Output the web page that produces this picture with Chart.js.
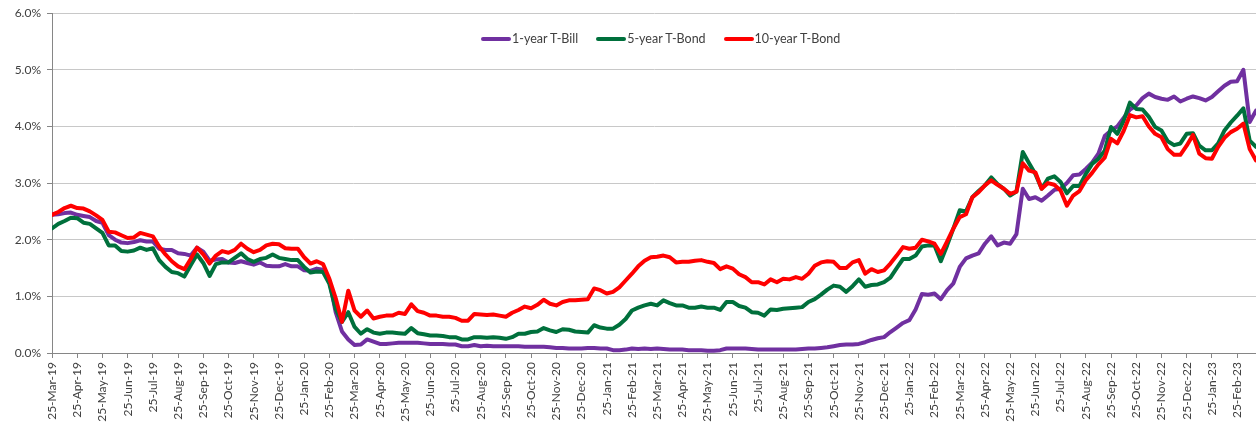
<!DOCTYPE html>
<html>
<head>
<meta charset="utf-8">
<script src="https://cdn.jsdelivr.net/npm/chart.js@4.4.0/dist/chart.umd.min.js"></script>
<style>
    body { margin: 0; background: #fff; }
    #wrap { position: relative; width: 1256px; height: 433px; }
    #legenda { position: absolute; top: 31px; left: 481px; display: flex; font: 12.5px Lato, sans-serif; color: #404040; }
    .item { display: flex; align-items: center; margin-right: 18px; white-space: nowrap; }
    .linha { width: 30px; height: 4px; border-radius: 2px; margin-right: 1px; }
</style>
</head>
<body>
<div id="wrap">
    <canvas id="ratesChart" width="1256" height="433"></canvas>
    <div id="legenda"></div>
</div>
<script>
// tick labels do eixo x (um por mês)
const monthLabels = [
    '25-Mar-19', '25-Apr-19', '25-May-19', '25-Jun-19', '25-Jul-19', '25-Aug-19', '25-Sep-19', '25-Oct-19', '25-Nov-19', '25-Dec-19',
    '25-Jan-20', '25-Feb-20', '25-Mar-20', '25-Apr-20', '25-May-20', '25-Jun-20', '25-Jul-20', '25-Aug-20', '25-Sep-20', '25-Oct-20', '25-Nov-20', '25-Dec-20',
    '25-Jan-21', '25-Feb-21', '25-Mar-21', '25-Apr-21', '25-May-21', '25-Jun-21', '25-Jul-21', '25-Aug-21', '25-Sep-21', '25-Oct-21', '25-Nov-21', '25-Dec-21',
    '25-Jan-22', '25-Feb-22', '25-Mar-22', '25-Apr-22', '25-May-22', '25-Jun-22', '25-Jul-22', '25-Aug-22', '25-Sep-22', '25-Oct-22', '25-Nov-22', '25-Dec-22',
    '25-Jan-23', '25-Feb-23'
];

// 4 leituras por mês (semanal), em %
const pointsPerMonth = 4;

const tBill1y = [
    2.44, 2.45, 2.47, 2.48, 2.44, 2.42, 2.40, 2.33, 2.30, 2.08, 2.00, 1.95, 1.94, 1.96, 1.99, 1.97,
    1.97, 1.84, 1.82, 1.82, 1.76, 1.75, 1.72, 1.86, 1.79, 1.63, 1.65, 1.66, 1.60, 1.59, 1.62, 1.59,
    1.56, 1.60, 1.54, 1.53, 1.53, 1.57, 1.53, 1.53, 1.46, 1.45, 1.49, 1.47, 1.28, 0.72, 0.38, 0.24,
    0.14, 0.15, 0.24, 0.20, 0.16, 0.16, 0.17, 0.18, 0.18, 0.18, 0.18, 0.17, 0.16, 0.16, 0.16, 0.15,
    0.15, 0.12, 0.12, 0.14, 0.12, 0.13, 0.12, 0.12, 0.12, 0.12, 0.12, 0.11, 0.11, 0.11, 0.11, 0.10,
    0.09, 0.09, 0.08, 0.08, 0.08, 0.09, 0.09, 0.08, 0.08, 0.05, 0.05, 0.06, 0.08, 0.07, 0.08, 0.07,
    0.08, 0.07, 0.06, 0.06, 0.06, 0.05, 0.05, 0.05, 0.04, 0.04, 0.05, 0.08, 0.08, 0.08, 0.08, 0.07,
    0.06, 0.06, 0.06, 0.06, 0.06, 0.06, 0.06, 0.07, 0.08, 0.08, 0.09, 0.10, 0.12, 0.14, 0.15, 0.15,
    0.16, 0.19, 0.23, 0.26, 0.28, 0.37, 0.45, 0.53, 0.58, 0.77, 1.04, 1.03, 1.05, 0.95, 1.11, 1.23,
    1.52, 1.67, 1.72, 1.76, 1.93, 2.06, 1.90, 1.95, 1.93, 2.10, 2.90, 2.72, 2.75, 2.69, 2.78, 2.88,
    2.90, 3.00, 3.14, 3.15, 3.25, 3.36, 3.52, 3.83, 3.93, 4.00, 4.15, 4.30, 4.37, 4.50, 4.58, 4.52,
    4.49, 4.47, 4.53, 4.44, 4.49, 4.53, 4.50, 4.46, 4.52, 4.62, 4.72, 4.79, 4.80, 5.00, 4.08, 4.28
];

const tBond5y = [
    2.20, 2.28, 2.33, 2.39, 2.38, 2.30, 2.28, 2.20, 2.12, 1.90, 1.90, 1.80, 1.79, 1.81, 1.86, 1.82,
    1.85, 1.64, 1.52, 1.43, 1.41, 1.35, 1.55, 1.74, 1.59, 1.36, 1.57, 1.60, 1.60, 1.68, 1.76, 1.66,
    1.61, 1.66, 1.68, 1.74, 1.68, 1.66, 1.64, 1.64, 1.52, 1.42, 1.44, 1.43, 1.22, 0.78, 0.55, 0.72,
    0.46, 0.34, 0.42, 0.36, 0.34, 0.36, 0.36, 0.35, 0.34, 0.44, 0.35, 0.33, 0.31, 0.31, 0.30, 0.28,
    0.28, 0.24, 0.24, 0.28, 0.28, 0.27, 0.28, 0.27, 0.25, 0.28, 0.34, 0.34, 0.37, 0.38, 0.44, 0.40,
    0.37, 0.42, 0.41, 0.38, 0.37, 0.36, 0.49, 0.45, 0.43, 0.43, 0.50, 0.60, 0.75, 0.80, 0.84, 0.87,
    0.84, 0.93, 0.88, 0.84, 0.84, 0.80, 0.80, 0.82, 0.80, 0.80, 0.76, 0.90, 0.90, 0.83, 0.80, 0.72,
    0.71, 0.66, 0.77, 0.76, 0.78, 0.79, 0.80, 0.81, 0.90, 0.95, 1.03, 1.12, 1.19, 1.17, 1.08, 1.18,
    1.30, 1.17, 1.20, 1.21, 1.25, 1.33, 1.50, 1.66, 1.66, 1.72, 1.88, 1.90, 1.90, 1.62, 1.90, 2.20,
    2.52, 2.50, 2.75, 2.86, 2.96, 3.10, 2.98, 2.90, 2.78, 2.85, 3.55, 3.35, 3.16, 2.90, 3.08, 3.12,
    3.02, 2.82, 2.95, 2.95, 3.16, 3.34, 3.43, 3.57, 3.99, 3.87, 4.10, 4.42, 4.31, 4.30, 4.17, 3.99,
    3.93, 3.74, 3.67, 3.70, 3.87, 3.88, 3.66, 3.58, 3.58, 3.70, 3.93, 4.07, 4.19, 4.32, 3.75, 3.64
];

const tBond10y = [
    2.44, 2.49, 2.56, 2.60, 2.56, 2.55, 2.50, 2.43, 2.35, 2.14, 2.13, 2.08, 2.03, 2.04, 2.12, 2.09,
    2.06, 1.88, 1.74, 1.62, 1.53, 1.48, 1.66, 1.86, 1.74, 1.58, 1.72, 1.80, 1.77, 1.82, 1.93, 1.84,
    1.78, 1.82, 1.90, 1.93, 1.92, 1.85, 1.84, 1.84, 1.69, 1.58, 1.62, 1.57, 1.31, 0.97, 0.55, 1.10,
    0.75, 0.64, 0.75, 0.61, 0.64, 0.66, 0.66, 0.71, 0.69, 0.86, 0.74, 0.71, 0.66, 0.66, 0.64, 0.64,
    0.62, 0.57, 0.57, 0.69, 0.68, 0.67, 0.68, 0.66, 0.64, 0.71, 0.76, 0.82, 0.79, 0.85, 0.94, 0.87,
    0.84, 0.90, 0.93, 0.93, 0.94, 0.95, 1.14, 1.11, 1.05, 1.08, 1.16, 1.28, 1.40, 1.53, 1.63, 1.69,
    1.70, 1.72, 1.69, 1.60, 1.61, 1.61, 1.63, 1.64, 1.61, 1.59, 1.48, 1.53, 1.49, 1.39, 1.34, 1.25,
    1.25, 1.21, 1.30, 1.25, 1.31, 1.30, 1.34, 1.31, 1.40, 1.54, 1.60, 1.62, 1.61, 1.50, 1.50, 1.60,
    1.64, 1.40, 1.48, 1.43, 1.46, 1.58, 1.72, 1.87, 1.84, 1.86, 2.00, 1.97, 1.93, 1.75, 1.97, 2.20,
    2.40, 2.45, 2.75, 2.84, 2.96, 3.05, 2.97, 2.90, 2.81, 2.85, 3.35, 3.22, 3.19, 2.90, 3.00, 2.97,
    2.87, 2.60, 2.78, 2.86, 3.05, 3.18, 3.33, 3.45, 3.78, 3.70, 3.92, 4.20, 4.16, 4.18, 4.00, 3.87,
    3.81, 3.60, 3.50, 3.50, 3.66, 3.85, 3.52, 3.44, 3.43, 3.64, 3.80, 3.90, 3.96, 4.05, 3.60, 3.40
];

let meuRatesChart = null;

document.addEventListener('DOMContentLoaded', () => {
    const fonte = { family: 'Lato, sans-serif', size: 12 };
    const corTexto = '#404040';
    const corEixo = '#868686';

    // ponto i -> mês i/4 no eixo linear
    const toPoints = (arr) => arr.map((v, i) => ({ x: i / pointsPerMonth, y: v }));

    const datasets = [
        { label: '1-year T-Bill', data: toPoints(tBill1y), borderColor: '#7030A0', order: 3 },
        { label: '5-year T-Bond', data: toPoints(tBond5y), borderColor: '#00703C', order: 2 },
        { label: '10-year T-Bond', data: toPoints(tBond10y), borderColor: '#FF0000', order: 1 }
    ];

    meuRatesChart = new Chart(document.getElementById('ratesChart').getContext('2d'), {
        type: 'line',
        data: { datasets },
        options: {
            responsive: false,
            animation: false,
            elements: { point: { radius: 0 }, line: { borderWidth: 4, tension: 0, borderJoinStyle: 'round', borderCapStyle: 'round' } },
            layout: { padding: { top: 3, right: 0 } },
            plugins: { legend: { display: false }, tooltip: { enabled: false } },
            scales: {
                x: {
                    type: 'linear',
                    min: 0,
                    max: monthLabels.length - 0.25,
                    afterFit: (s) => { s.height = 80; },
                    grid: { drawOnChartArea: false, drawTicks: true, tickLength: 5, tickColor: corEixo },
                    border: { color: corEixo },
                    ticks: {
                        stepSize: 1, includeBounds: false, autoSkip: false,
                        minRotation: 90, maxRotation: 90, padding: 4,
                        color: corTexto, font: fonte,
                        callback: (v) => monthLabels[v] ?? ''
                    }
                },
                y: {
                    min: 0,
                    max: 6,
                    afterFit: (s) => { s.width = 52; },
                    grid: { color: '#c8c8c8', tickLength: 5, tickColor: corEixo },
                    border: { color: corEixo },
                    ticks: { stepSize: 1, padding: 6, color: corTexto, font: fonte, callback: (v) => v.toFixed(1) + '%' }
                }
            }
        }
    });

    // legenda em HTML, por cima da área do gráfico
    document.getElementById('legenda').innerHTML = datasets.map(d => `
        <div class="item"><span class="linha" style="background:${d.borderColor}"></span>${d.label}</div>
    `).join('');
});
</script>
</body>
</html>
